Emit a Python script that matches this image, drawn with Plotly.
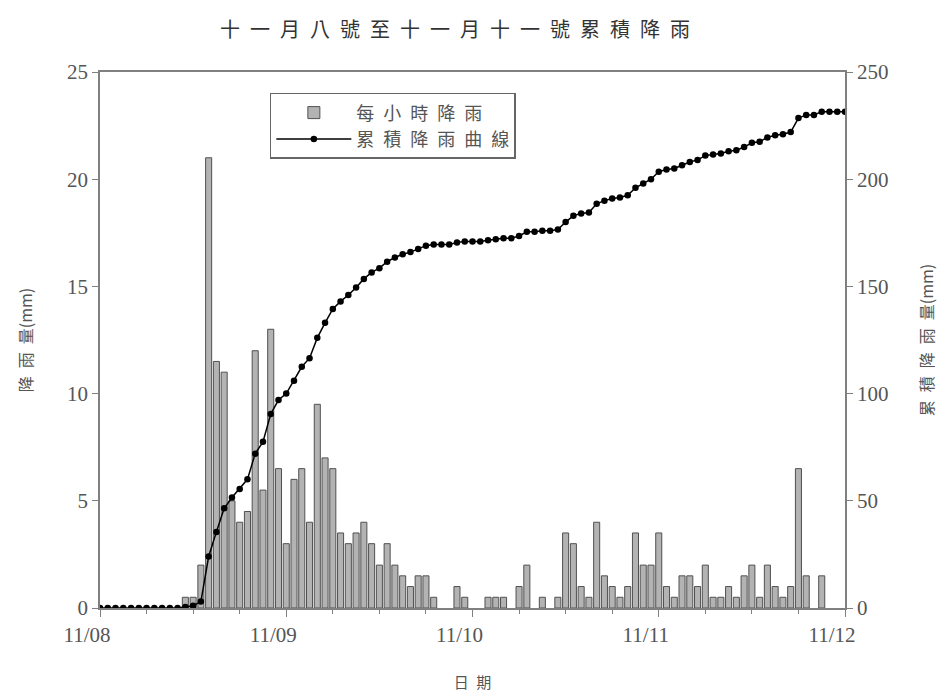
import numpy as np
import plotly.graph_objects as go

# ---- data ----
hours = list(range(97))  # hours since 11/08 00:00
hourly_rain = [
    0, 0, 0, 0, 0, 0, 0, 0, 0, 0, 0,          # 0-10
    0.5, 0.5, 2, 21, 11.5, 11, 5, 4, 4.5, 12,   # 11-20
    5.5, 13, 6.5, 3, 6, 6.5, 4, 9.5, 7, 6.5,    # 21-30
    3.5, 3, 3.5, 4, 3, 2, 3, 2, 1.5, 1,         # 31-40
    1.5, 1.5, 0.5, 0, 0, 1, 0.5, 0, 0, 0.5,     # 41-50
    0.5, 0.5, 0, 1, 2, 0, 0.5, 0, 0.5, 3.5,     # 51-60
    3, 1, 0.5, 4, 1.5, 1, 0.5, 1, 3.5, 2,       # 61-70
    2, 3.5, 1, 0.5, 1.5, 1.5, 1, 2, 0.5, 0.5,   # 71-80
    1, 0.5, 1.5, 2, 0.5, 2, 1, 0.5, 1, 6.5,     # 81-90
    1.5, 0, 1.5, 0, 0, 0,                       # 91-96
]
cumulative_rain = list(np.cumsum(hourly_rain))
day_ticks = [0, 24, 48, 72, 96]
day_labels = ["11/08", "11/09", "11/10", "11/11", "11/12"]

# zero-rain hours are not drawn as bars
bar_values = [v if v > 0 else None for v in hourly_rain]


def spaced(s):
    return "\u2002".join(s)


CJK = "Noto Sans CJK TC"
SERIF = "Liberation Serif"
TXT = "#555555"
AX = "#808080"

fig = go.Figure()
fig.add_trace(go.Bar(
    x=hours, y=bar_values, name=spaced("每小時降雨"),
    width=0.78,
    marker=dict(color="#b3b3b3", line=dict(color="#505050", width=1)),
    yaxis="y",
))
fig.add_trace(go.Scatter(
    x=hours, y=cumulative_rain, name=spaced("累積降雨曲線"),
    mode="lines+markers",
    line=dict(color="black", width=1.5),
    marker=dict(color="black", size=6.5, symbol="circle"),
    yaxis="y2",
))

fig.update_layout(
    width=948, height=698,
    margin=dict(l=100, r=103, t=72, b=90),
    paper_bgcolor="white", plot_bgcolor="white",
    title=dict(text=spaced("十一月八號至十一月十一號累積降雨"),
               x=0.48, xanchor="center", y=1 - 30 / 698, yanchor="middle",
               font=dict(family=CJK, size=20, color="#333333")),
    showlegend=True,
    legend=dict(x=0.228, y=0.961, xanchor="left", yanchor="top",
                bgcolor="white", bordercolor="#666666", borderwidth=1.5,
                font=dict(family=CJK, size=18, color=TXT),
                traceorder="normal", itemwidth=75, tracegroupgap=4,
                entrywidth=205, entrywidthmode="pixels"),
    bargap=0.2,
    xaxis=dict(
        range=[0, 96], tickmode="array", tickvals=day_ticks, ticktext=day_labels,
        ticks="outside", ticklen=7, tickcolor=AX, tickwidth=1,
        minor=dict(dtick=6, tick0=0, ticks="outside", ticklen=4, tickcolor=AX),
        showline=True, linecolor=AX, linewidth=1.5, mirror=True,
        showgrid=False, zeroline=False, automargin=False,
        tickfont=dict(family=SERIF, size=21, color=TXT),
        ticklabelshift=-13,
        title=dict(text=spaced("日期"), font=dict(family=CJK, size=15, color=TXT), standoff=32),
    ),
    yaxis=dict(
        range=[0, 25], dtick=5, ticks="outside", ticklen=6, tickcolor=AX,
        showline=True, linecolor=AX, linewidth=1.5,
        showgrid=False, zeroline=False, automargin=False,
        tickfont=dict(family=SERIF, size=21, color=TXT),
        title=dict(text="降\u2002雨\u2002量(mm)", font=dict(family=CJK, size=16, color=TXT), standoff=30),
    ),
    yaxis2=dict(
        range=[0, 250], dtick=50, overlaying="y", side="right",
        ticks="outside", ticklen=6, tickcolor=AX,
        showline=True, linecolor=AX, linewidth=1.5,
        showgrid=False, zeroline=False, automargin=False,
        tickfont=dict(family=SERIF, size=21, color=TXT),
        title=dict(text="累\u2002積\u2002降\u2002雨\u2002量(mm)", font=dict(family=CJK, size=16, color=TXT), standoff=34),
    ),
)

fig.write_html("out.html")
